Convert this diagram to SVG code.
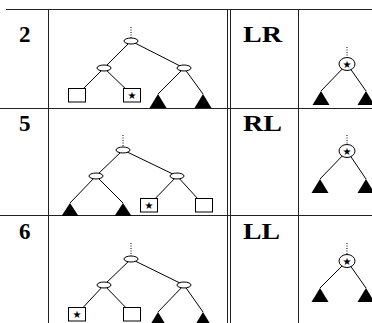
<svg xmlns="http://www.w3.org/2000/svg" width="372" height="323" viewBox="0 0 372 323">
<style>
.grid{stroke:#222;stroke-width:1;fill:none}
.lbl{font-family:"Liberation Serif","DejaVu Serif",serif;font-weight:bold;font-size:23px;fill:#000}
.lt{font-size:24px}
.edge{stroke:#000;stroke-width:1;fill:none}
.dot{stroke:#000;stroke-width:1;stroke-dasharray:1 1.5;fill:none}
.ell{fill:#fff;stroke:#000;stroke-width:1}
.box{fill:#fff;stroke:#000;stroke-width:1}
.tri{fill:#000;stroke:none}
.star{font-family:"DejaVu Sans",sans-serif;font-size:10px;fill:#000;text-anchor:middle}
</style>
<rect width="372" height="323" fill="#fff"/>
<g id="table">
<line class="grid" x1="6" y1="9.5" x2="372" y2="9.5"/>
<line class="grid" x1="0" y1="108.5" x2="372" y2="108.5"/>
<line class="grid" x1="0" y1="215.5" x2="372" y2="215.5"/>
<line class="grid" x1="48.5" y1="9" x2="48.5" y2="323"/>
<line class="grid" x1="227.5" y1="9" x2="227.5" y2="323"/>
<line class="grid" x1="230.5" y1="9" x2="230.5" y2="323"/>
<line class="grid" x1="298.5" y1="9" x2="298.5" y2="323"/>
</g>
<g id="labels">
<text class="lbl" x="19" y="42">2</text>
<text class="lbl" x="19" y="131">5</text>
<text class="lbl" x="19" y="239">6</text>
<text class="lbl lt" x="243" y="42" textLength="39" lengthAdjust="spacingAndGlyphs">LR</text>
<text class="lbl lt" x="243" y="131" textLength="39" lengthAdjust="spacingAndGlyphs">RL</text>
<text class="lbl lt" x="243" y="239" textLength="37" lengthAdjust="spacingAndGlyphs">LL</text>
</g>
<g id="connectors">
<line class="dot" x1="131" y1="27" x2="131" y2="38"/>
<line class="edge" x1="131" y1="41" x2="104" y2="68"/>
<line class="edge" x1="131" y1="41" x2="184" y2="68"/>
<line class="edge" x1="104" y1="68" x2="77" y2="95"/>
<line class="edge" x1="104" y1="68" x2="132" y2="95"/>
<line class="edge" x1="184" y1="68" x2="158" y2="94"/>
<line class="edge" x1="184" y1="68" x2="203" y2="94"/>
<line class="dot" x1="347" y1="47" x2="347" y2="57"/>
<line class="edge" x1="347" y1="64" x2="321" y2="91"/>
<line class="edge" x1="347" y1="64" x2="366" y2="91"/>
<line class="dot" x1="123" y1="135" x2="123" y2="147"/>
<line class="edge" x1="123" y1="150" x2="96" y2="176"/>
<line class="edge" x1="123" y1="150" x2="177" y2="176"/>
<line class="edge" x1="96" y1="176" x2="70" y2="203"/>
<line class="edge" x1="96" y1="176" x2="123" y2="203"/>
<line class="edge" x1="177" y1="176" x2="149" y2="205"/>
<line class="edge" x1="177" y1="176" x2="203.5" y2="205"/>
<line class="dot" x1="347" y1="135" x2="347" y2="144"/>
<line class="edge" x1="347" y1="151" x2="320" y2="179"/>
<line class="edge" x1="347" y1="151" x2="366" y2="179"/>
<line class="dot" x1="131" y1="243" x2="131" y2="256"/>
<line class="edge" x1="131" y1="259" x2="104" y2="285"/>
<line class="edge" x1="131" y1="259" x2="184" y2="285"/>
<line class="edge" x1="104" y1="285" x2="77" y2="314"/>
<line class="edge" x1="104" y1="285" x2="132" y2="314"/>
<line class="edge" x1="184" y1="285" x2="158" y2="312"/>
<line class="edge" x1="184" y1="285" x2="203" y2="312"/>
<line class="dot" x1="347" y1="243" x2="347" y2="254"/>
<line class="edge" x1="347" y1="261" x2="320" y2="288"/>
<line class="edge" x1="347" y1="261" x2="366" y2="288"/>
</g>
<g id="tree2">
<ellipse class="ell" cx="131" cy="41" rx="7" ry="3"/>
<ellipse class="ell" cx="104" cy="68" rx="7" ry="3"/>
<ellipse class="ell" cx="184" cy="68" rx="7" ry="3"/>
<rect class="box" x="68.5" y="88.5" width="17" height="13.5"/>
<rect class="box" x="123.5" y="88.5" width="17" height="13.5"/>
<text class="star" x="132" y="99">★</text>
<polygon class="tri" points="158,94 149.5,108 166.5,108"/>
<polygon class="tri" points="203,94 194.5,108 211.5,108"/>
</g>
<g id="treeLR">
<ellipse class="ell" cx="347" cy="64" rx="8" ry="6.5"/>
<text class="star" x="347" y="68">★</text>
<polygon class="tri" points="321,91 312.5,105 329.5,105"/>
<polygon class="tri" points="366,91 357.5,105 374.5,105"/>
</g>
<g id="tree5">
<ellipse class="ell" cx="123" cy="150" rx="7" ry="3"/>
<ellipse class="ell" cx="96" cy="176" rx="7" ry="3"/>
<ellipse class="ell" cx="177" cy="176" rx="7" ry="3"/>
<polygon class="tri" points="70,203 61.5,216 78.5,216"/>
<polygon class="tri" points="123,203 114.5,216 131.5,216"/>
<rect class="box" x="140.5" y="198.5" width="17" height="13.5"/>
<text class="star" x="149" y="209">★</text>
<rect class="box" x="195.5" y="198.5" width="17" height="13.5"/>
</g>
<g id="treeRL">
<ellipse class="ell" cx="347" cy="151" rx="8" ry="6.5"/>
<text class="star" x="347" y="155">★</text>
<polygon class="tri" points="320,179 311.5,193 328.5,193"/>
<polygon class="tri" points="366,179 357.5,193 374.5,193"/>
</g>
<g id="tree6">
<ellipse class="ell" cx="131" cy="259" rx="7" ry="3"/>
<ellipse class="ell" cx="104" cy="285" rx="7" ry="3"/>
<ellipse class="ell" cx="184" cy="285" rx="7" ry="3"/>
<rect class="box" x="68.5" y="307.5" width="17" height="13.5"/>
<text class="star" x="77" y="318">★</text>
<rect class="box" x="123.5" y="307.5" width="17" height="13.5"/>
<polygon class="tri" points="158,312 149.5,326 166.5,326"/>
<polygon class="tri" points="203,312 194.5,326 211.5,326"/>
</g>
<g id="treeLL">
<ellipse class="ell" cx="347" cy="261" rx="8" ry="6.5"/>
<text class="star" x="347" y="265">★</text>
<polygon class="tri" points="320,288 311.5,302 328.5,302"/>
<polygon class="tri" points="366,288 357.5,302 374.5,302"/>
</g>
</svg>
